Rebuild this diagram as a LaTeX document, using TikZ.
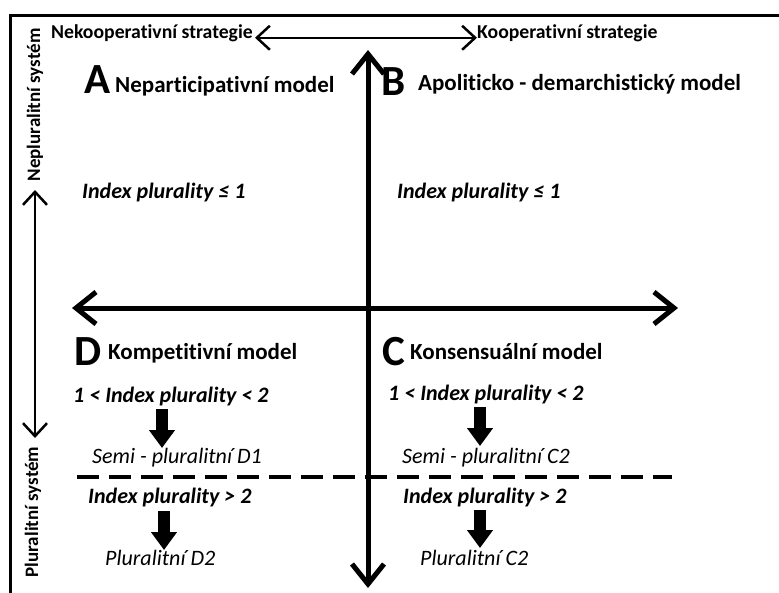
\documentclass[tikz,border=0pt]{standalone}
\usepackage{fontspec}
\setmainfont{Carlito}[Ligatures=NoCommon]
\usetikzlibrary{arrows.meta}

\tikzset{
  bigaxis/.style={line width=5pt,{Straight Barb[length=20pt,width=32pt]}-{Straight Barb[length=20pt,width=32pt]}},
  thinaxis/.style={line width=2.5pt,{Straight Barb[length=13pt,width=24pt]}-{Straight Barb[length=13pt,width=24pt]}},
  blockarrow/.style={line width=12pt,-{Triangle[length=18pt,width=25pt]}},
  letter/.style={font=\bfseries\fontsize{43}{47}\selectfont,anchor=base west,inner sep=0pt},
  heading/.style={font=\bfseries\fontsize{23}{27}\selectfont,anchor=base west,inner sep=0pt},
  index/.style={font=\bfseries\itshape\fontsize{22}{26}\selectfont,anchor=base west,inner sep=0pt},
  result/.style={font=\itshape\fontsize{22}{26}\selectfont,anchor=base west,inner sep=0pt},
  strategy/.style={font=\bfseries\fontsize{19.7}{22}\selectfont,inner sep=0pt},
  system/.style={font=\bfseries\fontsize{19}{22}\selectfont,rotate=90,inner sep=0pt}
}

\begin{document}
\begin{tikzpicture}[x=1pt,y=-1pt]
    \useasboundingbox (0,0) rectangle (779,592);
    \fill[white] (0,0) rectangle (779,592);
    \draw[line width=3pt] (10,600) -- (10,15) -- (790,15); % frame

    % strategies
    \node[strategy,anchor=base east] (nekoop) at (253,38) {Nekooperativní strategie};
    \node[strategy,anchor=base west] (koop) at (477,38) {Kooperativní strategie};
    \draw[thinaxis] (nekoop.east) ++(2pt,-5pt) coordinate (stratL) -- (stratL -| koop.west) coordinate (stratR);

    % systems
    \node[system] (neplur) at (35,105) {Nepluralitní systém};
    \node[system] (plur) at (33,512) {Pluralitní systém};
    \coordinate (sysT) at (35,190);
    \coordinate (sysB) at (35,438);
    \draw[thinaxis] (sysT) -- (sysB);

    % axes
    \coordinate (axT) at (368,50);
    \coordinate (axB) at (368,588);
    \coordinate (axL) at (72,308);
    \coordinate (axR) at (678,308);
    \draw[bigaxis] (axT) -- (axB);
    \draw[bigaxis] (axL) -- (axR);

    % A
    \node[letter] (letA) at (84,93) {A};
    \node[heading] (modA) at (115,92) {Neparticipativní model};
    \node[index] (idxA) at (82,198) {Index plurality ≤ 1};

    % B
    \node[letter] (letB) at (381,95) {B};
    \node[heading] (modB) at (418,90) {Apoliticko - demarchistický model};
    \node[index] (idxB) at (397,198) {Index plurality ≤ 1};

    % D
    \node[letter] (letD) at (74,365) {D};
    \node[heading] (modD) at (108,359) {Kompetitivní model};
    \node[index] (idxD1) at (73,402) {1 < Index plurality < 2};
    \node[result] (semiD) at (92,463) {Semi - pluralitní D1};
    \node[index] (idxD2) at (88,503) {Index plurality > 2};
    \node[result] (plurD) at (105,565) {Pluralitní D2};

    % C
    \node[letter] (letC) at (382,365) {C};
    \node[heading] (modC) at (410,359) {Konsensuální model};
    \node[index] (idxC1) at (388,400) {1 < Index plurality < 2};
    \node[result] (semiC) at (402,463) {Semi - pluralitní C2};
    \node[index] (idxC2) at (403,503) {Index plurality > 2};
    \node[result] (plurC) at (420,565) {Pluralitní C2};

    % block arrows
    \coordinate (dA1) at (162,409);
    \coordinate (dB1) at (162,448);
    \coordinate (dA2) at (164,511);
    \coordinate (dB2) at (164,550);
    \coordinate (cA1) at (480,407);
    \coordinate (cB1) at (480,446);
    \coordinate (cA2) at (480,510);
    \coordinate (cB2) at (480,548);
    \draw[blockarrow] (dA1) -- (dB1);
    \draw[blockarrow] (dA2) -- (dB2);
    \draw[blockarrow] (cA1) -- (cB1);
    \draw[blockarrow] (cA2) -- (cB2);

    % split between semi and full plurality
    \coordinate (splitL) at (77,477);
    \coordinate (splitR) at (672,477);
    \draw[line width=3.5pt,dash pattern=on 22pt off 10pt] (splitL) -- (splitR);
\end{tikzpicture}
\end{document}
